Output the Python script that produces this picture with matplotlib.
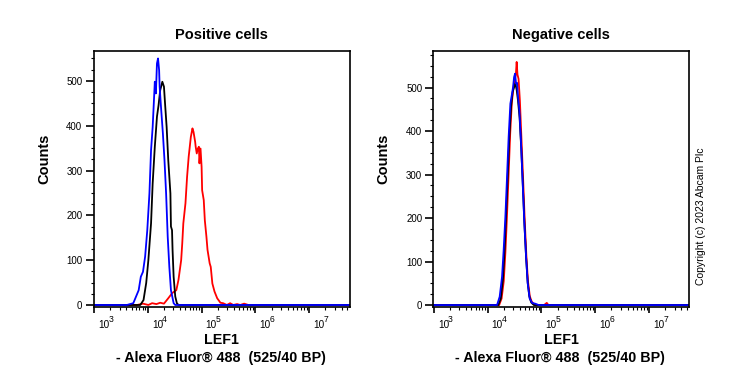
import matplotlib
matplotlib.use('Agg')
import matplotlib.pyplot as plt
from matplotlib.ticker import FixedLocator, LogLocator, MultipleLocator, NullFormatter
import numpy as np

plt.rcParams['font.family'] = ['Liberation Sans', 'DejaVu Sans']

# x values are log10 of LEF1 intensity, y values are event counts
pos_red_log = [2.99, 3.80, 3.91, 4.01, 4.08, 4.16, 4.23, 4.30, 4.38, 4.45, 4.48, 4.53, 4.57,
               4.62, 4.64, 4.66, 4.70, 4.73, 4.76, 4.78, 4.80, 4.83, 4.85, 4.88, 4.89, 4.91,
               4.93, 4.95, 4.96, 4.98, 5.00, 5.01, 5.04, 5.06, 5.09, 5.11, 5.15, 5.17, 5.20,
               5.24, 5.29, 5.35, 5.40, 5.47, 5.53, 5.59, 5.66, 5.72, 5.79, 5.87, 7.75]
pos_red_cnt = [0, 0, 3, 0, 4, 2, 5, 3, 15, 26, 29, 33, 56,
               100, 137, 182, 227, 286, 331, 353, 375, 394, 386, 364, 353, 338,
               349, 353, 316, 349, 308, 256, 234, 189, 152, 123, 93, 85, 48,
               30, 15, 5, 4, 0, 4, 0, 2, 0, 3, 0, 0]

pos_black_log = [2.99, 3.86, 3.92, 3.97, 4.01, 4.06, 4.09, 4.13, 4.17, 4.20, 4.23, 4.27,
                 4.30, 4.32, 4.35, 4.38, 4.42, 4.43, 4.45, 4.46, 4.48, 4.51, 4.54, 4.57, 7.75]
pos_black_cnt = [0, 0, 11, 49, 100, 182, 271, 353, 420, 446, 479, 498,
                 487, 450, 397, 323, 249, 175, 167, 123, 63, 19, 4, 0, 0]

pos_blue_log = [2.99, 3.61, 3.73, 3.83, 3.87, 3.91, 3.95, 3.99, 4.03, 4.06, 4.09, 4.12, 4.13,
                4.15, 4.17, 4.19, 4.21, 4.22, 4.24, 4.28, 4.31, 4.34, 4.37, 4.40, 4.43,
                4.48, 4.51, 7.75]
pos_blue_cnt = [0, 0, 4, 33, 63, 74, 108, 167, 249, 345, 397, 472, 498,
                472, 539, 550, 524, 487, 450, 383, 323, 249, 152, 85, 33,
                4, 0, 0]

neg_red_log = [2.99, 4.215, 4.26, 4.30, 4.33, 4.36, 4.39, 4.42, 4.45, 4.48, 4.505, 4.525,
               4.54, 4.555, 4.575, 4.60, 4.63, 4.66, 4.69, 4.72, 4.75, 4.785, 4.82, 4.86,
               4.90, 5.05, 5.10, 5.13, 7.75]
neg_red_cnt = [0, 0, 15, 55, 120, 205, 300, 395, 465, 500, 520, 530,
               559, 530, 520, 470, 380, 290, 195, 115, 55, 20, 8, 2,
               0, 0, 5, 0, 0]

neg_black_log = [2.99, 4.20, 4.245, 4.285, 4.315, 4.345, 4.375, 4.405, 4.435, 4.465, 4.49,
                 4.515, 4.54, 4.565, 4.595, 4.625, 4.655, 4.685, 4.715, 4.745, 4.775,
                 4.81, 4.86, 7.75]
neg_black_cnt = [0, 0, 15, 60, 126, 210, 300, 390, 455, 490, 500,
                 510, 495, 470, 430, 360, 275, 185, 110, 52, 20,
                 6, 0, 0]

neg_blue_log = [2.99, 4.175, 4.224, 4.268, 4.298, 4.330, 4.361, 4.391, 4.423, 4.454, 4.473,
                4.492, 4.510, 4.529, 4.547, 4.566, 4.590, 4.622, 4.652, 4.683, 4.715,
                4.745, 4.782, 4.827, 4.888, 4.950, 7.75]
neg_blue_cnt = [0, 0, 19, 65, 126, 203, 295, 387, 463, 486, 501,
                524, 532, 509, 511, 478, 448, 371, 280, 188, 111,
                50, 15, 5, 3, 0, 0]

decades = [1e3, 1e4, 1e5, 1e6, 1e7]
decade_exps = ['3', '4', '5', '6', '7']
count_ticks = [0, 100, 200, 300, 400, 500]

W, H = 739.0, 370.0


def draw_panel(fig, left, ymax, curves, title):
    ax = fig.add_axes([left / W, 1 - 307 / H, 256 / W, 255.5 / H])
    for lx, cnt, color in curves:
        ax.plot(10 ** np.array(lx), cnt, color=color, lw=1.3)
    ax.set_xscale('log')
    ax.set_xlim(10 ** 2.99, 10 ** 7.75)
    ax.set_ylim(-4.5, ymax)

    ax.xaxis.set_major_locator(FixedLocator(decades))
    ax.set_xticklabels([])
    ax.xaxis.set_minor_locator(LogLocator(base=10, subs=range(2, 10), numticks=50))
    ax.xaxis.set_minor_formatter(NullFormatter())
    ax.yaxis.set_major_locator(FixedLocator(count_ticks))
    ax.yaxis.set_minor_locator(MultipleLocator(25))

    ax.tick_params(axis='both', which='major', direction='out', width=1.2, labelsize=7)
    ax.tick_params(axis='y', which='major', length=5.5, pad=2.5)
    ax.tick_params(axis='x', which='major', length=4.5)
    ax.tick_params(axis='both', which='minor', direction='out', length=2.4, width=0.8)
    for sp in ax.spines.values():
        sp.set_linewidth(1.2)

    # decade labels "10" + raised exponent, set just right of each tick
    for d, e in zip(decades, decade_exps):
        ax.annotate('10', xy=(d, 0), xycoords=('data', 'axes fraction'),
                    xytext=(4, -18), textcoords='offset pixels',
                    ha='left', va='center', fontsize=7.2)
        ax.annotate(e, xy=(d, 0), xycoords=('data', 'axes fraction'),
                    xytext=(14.3, -12.5), textcoords='offset pixels',
                    ha='left', va='center', fontsize=6.2)

    cx = (left + 128) / W
    fig.text(cx, 1 - 35 / H, title, ha='center', va='center', fontsize=10.5, fontweight='bold')
    fig.text(cx, 1 - 340 / H, 'LEF1', ha='center', va='center', fontsize=10.3, fontweight='bold')
    fig.text(cx - 1 / W, 1 - 358 / H, '- Alexa Fluor\u00ae 488  (525/40 BP)',
             ha='center', va='center', fontsize=10.3, fontweight='bold')
    fig.text((left - 49.5) / W, 1 - 159 / H, 'Counts', rotation=90, ha='center',
             va='center', fontsize=10.5, fontweight='bold')
    return ax


fig = plt.figure(figsize=(7.39, 3.70), dpi=100)

draw_panel(fig, 93.5, 565.5,
           [(pos_red_log, pos_red_cnt, '#ff0000'),
            (pos_black_log, pos_black_cnt, '#000000'),
            (pos_blue_log, pos_blue_cnt, '#0000ff')],
           'Positive cells')
draw_panel(fig, 433.3, 583,
           [(neg_red_log, neg_red_cnt, '#ff0000'),
            (neg_black_log, neg_black_cnt, '#000000'),
            (neg_blue_log, neg_blue_cnt, '#0000ff')],
           'Negative cells')

fig.text(701 / W, 1 - 216 / H, 'Copyright (c) 2023 Abcam Plc', rotation=90,
         ha='center', va='center', fontsize=7.5)

fig.savefig('out.png', dpi=100)
